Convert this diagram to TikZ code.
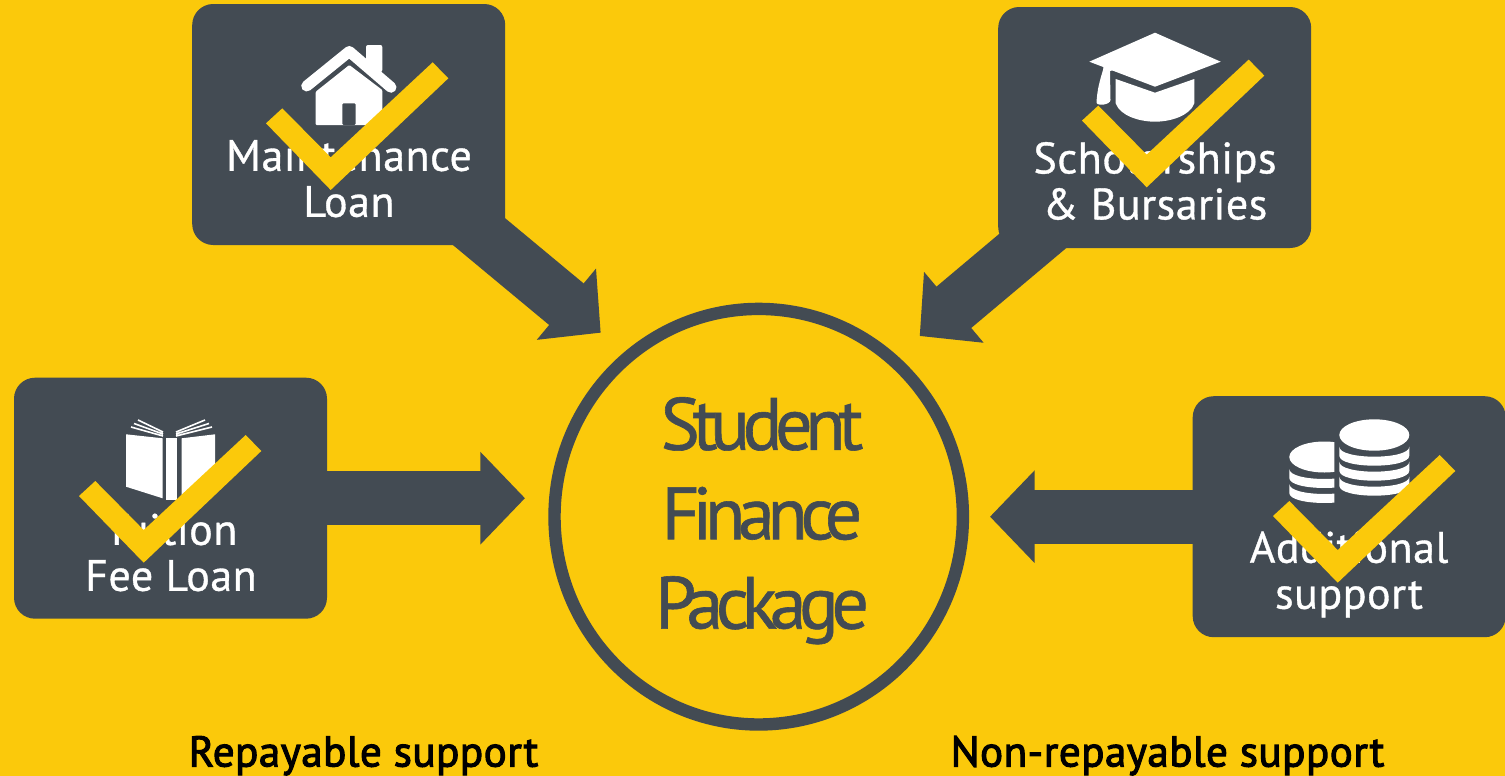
\documentclass[tikz,border=0pt]{standalone}
\usepackage{fontspec}
\usetikzlibrary{arrows.meta,backgrounds,shapes.geometric}
\setmainfont{PT Sans}
\newfontfamily\labelfont[LetterSpace=1.2,FakeBold=0.8]{PT Sans}
\newfontfamily\footfont[LetterSpace=1.2,FakeBold=2.5]{PT Sans}
\newfontfamily\titlefont[LetterSpace=-10,FakeBold=0.8]{PT Sans}
\definecolor{gold}{HTML}{FBC90B}
\definecolor{slate}{HTML}{434B53}
\newcommand{\coinband}[4]{\fill[white] (#1,#3) .. controls (#1,#3+13.3) and (#2,#3+13.3) .. (#2,#3) -- (#2,#3+#4) .. controls (#2,#3+#4+13.3) and (#1,#3+#4+13.3) .. (#1,#3+#4) -- cycle;}
\tikzset{
  x=0.5pt,y=-0.5pt,
  panel/.style={fill=slate,rounded corners=10.5pt,inner sep=0pt,minimum width=156.5pt,minimum height=120.5pt},
  panellabel/.style={text=white,font=\labelfont\fontsize{22}{23}\selectfont,align=center,inner sep=0pt},
  footlabel/.style={text=black,font=\footfont\fontsize{21.5}{23}\selectfont,inner sep=0pt,anchor=base},
  titlelabel/.style={text=slate,font=\titlefont\fontsize{37}{44.7}\selectfont,align=center,inner sep=0pt},
  hub/.style={ellipse,draw=slate,line width=6.2pt,fill=gold,minimum width=204.2pt,minimum height=207.8pt,inner sep=0pt},
  blockarrow/.style={draw=slate,line width=27pt,-{Triangle[length=22.3pt,width=45pt,fill=slate]}},
  tick/.pic={\fill[gold] (0,0) -- (117.6,-111.7) -- (102,-127.7) -- (0,-32.7) -- (-48.4,-81.7) -- (-64.7,-66.7) -- cycle;}
}
\begin{document}
\begin{tikzpicture}
\useasboundingbox (0,0) rectangle (1505,776);
% nodes
\node[panel] (maint) at (348.7,124.5) {};
\node[panel] (schol) at (1154.7,127.5) {};
\node[panel] (tuition) at (170.5,498.2) {};
\node[panel] (addit) at (1349.2,516.7) {};
\node[hub] (package) at (758.7,516.7) {};
\coordinate (tipa) at (600.7,332.7);
\coordinate (tipb) at (919.7,336);
\coordinate (tipc) at (525,498.2);
\coordinate (tipd) at (990,516.7);
% arrows and ground, behind the panels
\begin{pgfonlayer}{background}
\fill[gold] (0,0) rectangle (1505,776);
\draw[blockarrow] ([xshift=0.7pt]maint.center) -- (tipa);
\draw[blockarrow] ([xshift=6.5pt]schol.center) -- (tipb);
\draw[blockarrow] (tuition.center) -- (tipc);
\draw[blockarrow] (addit.center) -- (tipd);
\end{pgfonlayer}
% house
\draw[white,line width=5.5pt,line cap=round,line join=round] (306.7,86) -- (349.3,51.5) -- (391,87.3);
\fill[white,rounded corners=1pt] (366,45) rectangle (382.3,72);
\fill[white,even odd rule,rounded corners=0.5pt] (349.3,65) -- (382.3,90) -- (382.3,125) -- (315.7,125) -- (315.7,91.7) -- cycle (342.3,103.3) rectangle (355.7,125);
% cap
\fill[white] (1155,32.7) -- (1220.7,61.7) -- (1155,86.7) -- (1089.3,61.7) -- cycle;
\fill[white] (1115.7,79) -- (1155,92.7) -- (1194.3,79) -- (1194.3,103.3) .. controls (1190,116) and (1170,121.7) .. (1155,121.7) .. controls (1140,121.7) and (1120,116) .. (1115.7,103.3) -- cycle;
\fill[white] (1104,64) -- (1110,65) -- (1120,68.3) -- (1110,71) -- (1110.5,100) .. controls (1110,105) and (1098,106) .. (1096.5,103) .. controls (1097,90) and (1100,80) .. (1103,70) -- cycle;
% book
\fill[white] (126,434.3) -- (162.7,438.3) -- (162.7,498.3) -- (126,486.7) -- cycle;
\fill[white] (166,438.3) -- (176.7,438.3) -- (176.7,500) -- (166,500) -- cycle;
\fill[white] (181.7,438.3) -- (215,434.3) -- (215,486.7) -- (181.7,498.3) -- cycle;
\draw[white,line width=0.8pt] (163,436) -- (131,427) (163,434) -- (134,423.5) (163,432) -- (138,420) (176,436) -- (212,427) (176,434) -- (209,423.5) (176,432) -- (205,420);
% coins
\fill[white] (1374.3,435) ellipse [x radius=35,y radius=15.7];
\coinband{1339.3}{1409.3}{446.7}{9}
\coinband{1339.3}{1409.3}{461.7}{9}
\coinband{1339.3}{1409.3}{476.7}{9}
\begin{scope}
\clip (1280,430) rectangle (1334.3,510);
\fill[white] (1324.3,457) ellipse [x radius=35,y radius=15.5];
\coinband{1289.3}{1359.3}{469}{9}
\coinband{1289.3}{1359.3}{484}{9}
\end{scope}
% labels
\node[panellabel] (maintl) at (349,178.5) {Maintenance\\Loan};
\node[panellabel] (scholl) at (1155,181) {Scholarships\\\&\ Bursaries};
\node[panellabel] (tuitl) at (171,552.5) {Tuition\\Fee Loan};
\node[panellabel] (addl) at (1349,574.5) {Additional\\support};
\node[titlelabel] (ptitle) at (762,520.7) {Student\\Finance\\Package};
\node[footlabel] (repay) at (363.5,766.5) {Repayable support};
\node[footlabel] (nonrepay) at (1167.5,766.5) {Non-repayable support};
% ticks
\pic at (330.7,190) {tick};
\pic at (1146.7,187.3) {tick};
\pic at (143.7,562.7) {tick};
\pic at (1337.7,582.7) {tick};
\end{tikzpicture}
\end{document}
